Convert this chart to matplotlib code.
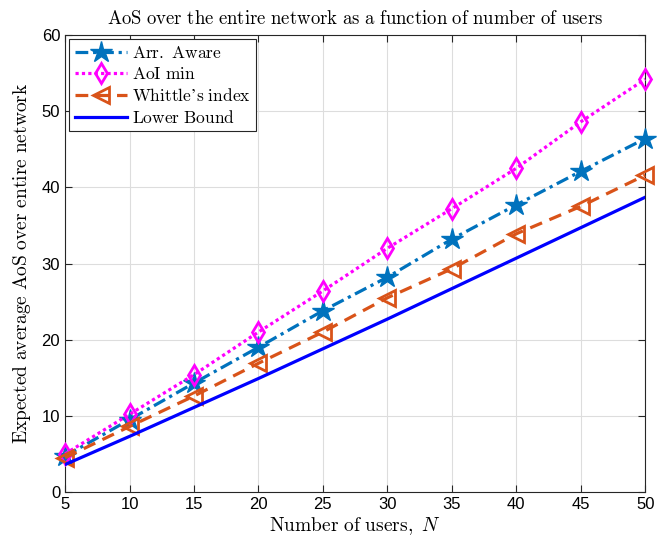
import matplotlib
matplotlib.use("Agg")
import matplotlib.pyplot as plt

plt.rcParams['mathtext.fontset'] = 'cm'
plt.rcParams['font.family'] = 'Liberation Sans'

users = [5, 10, 15, 20, 25, 30, 35, 40, 45, 50]
arr_aware = [4.7, 9.5, 14.3, 19.0, 23.8, 28.2, 33.2, 37.7, 42.1, 46.4]
aoi_min = [5.0, 10.2, 15.4, 21.0, 26.4, 32.0, 37.2, 42.5, 48.6, 54.2]
whittle = [4.5, 8.6, 12.6, 16.9, 21.0, 25.5, 29.3, 33.9, 37.5, 41.6]
lower_bound = [3.6, 7.3, 11.1, 14.9, 18.8, 22.7, 26.7, 30.7, 34.7, 38.7]

fig = plt.figure(figsize=(6.57, 5.44), dpi=100)
ax = fig.add_axes([0.099, 0.0956, 0.883, 0.840])

ax.plot(users, arr_aware, color='#0072BD', linestyle=(0, (4, 1.5, 1, 1.5)), linewidth=2.3,
        marker='*', markersize=16, label=r'$\mathrm{Arr.\ Aware}$', clip_on=False, zorder=3)
ax.plot(users, aoi_min, color='#FF00FF', linestyle=(0, (1, 1)), linewidth=2.3,
        marker='d', markersize=10, markerfacecolor='none', markeredgewidth=2,
        label=r'$\mathrm{AoI\ min}$', clip_on=False, zorder=3)
ax.plot(users, whittle, color='#D95319', linestyle=(0, (4, 2.5)), linewidth=2.3,
        marker='<', markersize=11, markerfacecolor='none', markeredgewidth=2,
        label="$\\mathrm{Whittle\u2019s\\ index}$", clip_on=False, zorder=3)
ax.plot(users, lower_bound, color='#0000FF', linestyle='-', linewidth=2.3,
        label=r'$\mathrm{Lower\ Bound}$', zorder=3)

ax.set_xlim(5, 50)
ax.set_ylim(0, 60)
ax.set_xticks(users)
ax.set_yticks(range(0, 61, 10))
ax.tick_params(direction='in', top=True, right=True, labelsize=12, length=5, color='#262626')
ax.grid(True, color='#dddddd', linewidth=0.8)
ax.set_axisbelow(True)
for s in ax.spines.values():
    s.set_color('#262626')
    s.set_linewidth(0.8)

ax.set_title(r'$\mathrm{AoS\ over\ the\ entire\ network\ as\ a\ function\ of\ number\ of\ users}$',
             fontsize=13.5, pad=8)
ax.set_xlabel(r'$\mathrm{Number\ of\ users,}\ N$', fontsize=14, labelpad=2)
ax.set_ylabel(r'$\mathrm{Expected\ average\ AoS\ over\ entire\ network}$', fontsize=14, labelpad=6)

leg = ax.legend(loc='upper left', fontsize=12.5, fancybox=False, edgecolor='#262626',
                handlelength=3.0, borderaxespad=0.25, labelspacing=0.3, handletextpad=0.3,
                borderpad=0.3, framealpha=1)
leg.get_frame().set_linewidth(0.8)
leg.set_zorder(5)

fig.savefig('out.png', dpi=100)
